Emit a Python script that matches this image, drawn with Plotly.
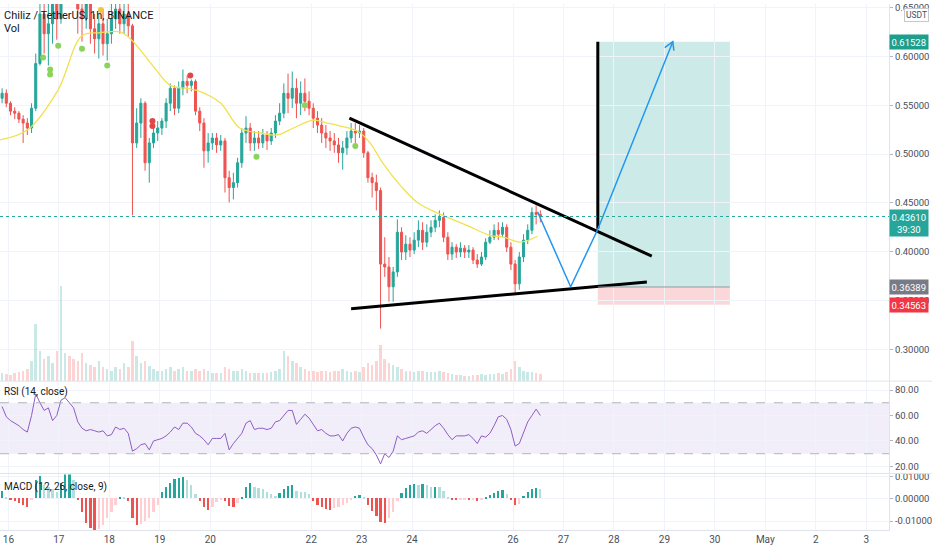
import pandas as pd
import plotly.graph_objects as go

candle_open = [
    0.5573, 0.5624, 0.5522, 0.5441, 0.5420, 0.5359, 0.5319, 0.5268, 0.5471, 0.5929,
    0.6437, 0.6234, 0.6336, 0.6641, 0.6386, 0.6742, 0.6946, 0.6844, 0.6742, 0.6488,
    0.6386, 0.6539, 0.6285, 0.6183, 0.6336, 0.6132, 0.6234, 0.6386, 0.6488, 0.6336,
    0.6437, 0.6315, 0.5115, 0.5319, 0.5522, 0.4912, 0.5115, 0.5217, 0.5268, 0.5339,
    0.5522, 0.5675, 0.5471, 0.5675, 0.5746, 0.5705, 0.5746, 0.5441, 0.5319, 0.5034,
    0.5115, 0.5166, 0.5095, 0.5136, 0.4759, 0.4658, 0.4708, 0.4912, 0.5217, 0.5268,
    0.5115, 0.5166, 0.5115, 0.5197, 0.5136, 0.5217, 0.5339, 0.5420, 0.5624, 0.5573,
    0.5675, 0.5522, 0.5624, 0.5542, 0.5471, 0.5369, 0.5298, 0.5217, 0.5166, 0.5136,
    0.5095, 0.5014, 0.5064, 0.5166, 0.5237, 0.5217, 0.5237, 0.5014, 0.4759, 0.4708,
    0.4627, 0.3874, 0.3844, 0.3641, 0.3793, 0.4200, 0.3997, 0.4078, 0.4017, 0.4119,
    0.4220, 0.4098, 0.4200, 0.4251, 0.4322, 0.4352, 0.4149, 0.3976, 0.4047, 0.3997,
    0.4037, 0.3997, 0.4017, 0.3915, 0.3874, 0.3946, 0.4098, 0.4149, 0.4220, 0.4180,
    0.4251, 0.4047, 0.3874, 0.3671, 0.3946, 0.4119, 0.4220, 0.4403, 0.4383,
]
candle_high = [
    0.5675, 0.5664, 0.5542, 0.5481, 0.5441, 0.5400, 0.5369, 0.5522, 0.6031, 0.6742,
    0.6844, 0.6641, 0.6946, 0.6844, 0.7048, 0.7251, 0.7149, 0.7048, 0.6895, 0.6641,
    0.6742, 0.6641, 0.6437, 0.6437, 0.6488, 0.6386, 0.6539, 0.6742, 0.6692, 0.6590,
    0.6641, 0.6336, 0.5471, 0.5573, 0.5542, 0.5166, 0.5319, 0.5339, 0.5369, 0.5573,
    0.5725, 0.5705, 0.5746, 0.5868, 0.5807, 0.5766, 0.5766, 0.5481, 0.5369, 0.5217,
    0.5217, 0.5217, 0.5197, 0.5166, 0.4830, 0.4810, 0.4963, 0.5268, 0.5390, 0.5319,
    0.5237, 0.5237, 0.5258, 0.5237, 0.5268, 0.5400, 0.5522, 0.5725, 0.5827, 0.5847,
    0.5776, 0.5746, 0.5776, 0.5644, 0.5522, 0.5441, 0.5369, 0.5298, 0.5237, 0.5217,
    0.5166, 0.5136, 0.5237, 0.5319, 0.5319, 0.5298, 0.5268, 0.5034, 0.4810, 0.4790,
    0.4658, 0.4149, 0.3946, 0.3844, 0.4332, 0.4251, 0.4169, 0.4149, 0.4200, 0.4322,
    0.4302, 0.4281, 0.4322, 0.4383, 0.4424, 0.4403, 0.4200, 0.4098, 0.4078, 0.4098,
    0.4068, 0.4068, 0.4047, 0.3976, 0.3997, 0.4139, 0.4220, 0.4281, 0.4302, 0.4302,
    0.4281, 0.4098, 0.3915, 0.3997, 0.4180, 0.4281, 0.4454, 0.4475, 0.4424,
]
candle_low = [
    0.5522, 0.5481, 0.5400, 0.5359, 0.5319, 0.5115, 0.5197, 0.5217, 0.5441, 0.5908,
    0.6031, 0.5908, 0.6132, 0.6173, 0.6336, 0.6641, 0.6692, 0.6590, 0.6234, 0.6153,
    0.6285, 0.6132, 0.6031, 0.5980, 0.6010, 0.5959, 0.6132, 0.6285, 0.6234, 0.6234,
    0.6203, 0.4373, 0.5064, 0.5166, 0.4830, 0.4708, 0.5064, 0.5136, 0.5197, 0.5268,
    0.5441, 0.5400, 0.5420, 0.5603, 0.5624, 0.5644, 0.5400, 0.5237, 0.4861, 0.4912,
    0.5044, 0.5014, 0.5034, 0.4607, 0.4505, 0.4536, 0.4658, 0.4861, 0.5115, 0.5034,
    0.5034, 0.5054, 0.5064, 0.5044, 0.5095, 0.5166, 0.5298, 0.5369, 0.5420, 0.5471,
    0.5369, 0.5400, 0.5441, 0.5400, 0.5268, 0.5217, 0.5115, 0.5064, 0.5034, 0.5014,
    0.4912, 0.4841, 0.4993, 0.5115, 0.5115, 0.5166, 0.4963, 0.4708, 0.4556, 0.4424,
    0.3213, 0.3742, 0.3488, 0.3488, 0.3742, 0.3915, 0.3915, 0.3946, 0.3976, 0.4047,
    0.4017, 0.4047, 0.4149, 0.4200, 0.4251, 0.4098, 0.3915, 0.3915, 0.3936, 0.3946,
    0.3936, 0.3936, 0.3874, 0.3834, 0.3854, 0.3915, 0.4078, 0.4119, 0.4119, 0.4149,
    0.3997, 0.3813, 0.3569, 0.3610, 0.3895, 0.4078, 0.4180, 0.4281, 0.4302,
]
candle_close = [
    0.5624, 0.5522, 0.5441, 0.5420, 0.5359, 0.5319, 0.5268, 0.5471, 0.5929, 0.6437,
    0.6234, 0.6336, 0.6641, 0.6386, 0.6742, 0.6946, 0.6844, 0.6742, 0.6488, 0.6386,
    0.6539, 0.6285, 0.6183, 0.6336, 0.6132, 0.6234, 0.6386, 0.6488, 0.6336, 0.6437,
    0.6315, 0.5115, 0.5319, 0.5522, 0.4912, 0.5115, 0.5217, 0.5268, 0.5339, 0.5522,
    0.5675, 0.5471, 0.5675, 0.5746, 0.5705, 0.5746, 0.5441, 0.5319, 0.5034, 0.5115,
    0.5166, 0.5095, 0.5136, 0.4759, 0.4658, 0.4708, 0.4912, 0.5217, 0.5268, 0.5115,
    0.5166, 0.5115, 0.5197, 0.5136, 0.5217, 0.5339, 0.5420, 0.5624, 0.5573, 0.5675,
    0.5522, 0.5624, 0.5542, 0.5471, 0.5369, 0.5298, 0.5217, 0.5166, 0.5136, 0.5095,
    0.5014, 0.5064, 0.5166, 0.5237, 0.5217, 0.5237, 0.5014, 0.4759, 0.4708, 0.4627,
    0.3874, 0.3844, 0.3641, 0.3793, 0.4200, 0.3997, 0.4078, 0.4017, 0.4119, 0.4220,
    0.4098, 0.4200, 0.4251, 0.4322, 0.4352, 0.4149, 0.3976, 0.4047, 0.3997, 0.4037,
    0.3997, 0.4017, 0.3915, 0.3874, 0.3946, 0.4098, 0.4149, 0.4220, 0.4180, 0.4251,
    0.4047, 0.3874, 0.3671, 0.3946, 0.4119, 0.4220, 0.4403, 0.4383, 0.4361,
]
volume = [
    8, 7, 6, 8, 9, 10, 12, 20, 58, 30,
    22, 25, 18, 30, 96, 28, 25, 22, 20, 28,
    18, 16, 14, 20, 14, 12, 10, 14, 12, 18,
    14, 40, 25, 18, 20, 15, 12, 10, 10, 12,
    14, 10, 12, 14, 10, 10, 12, 10, 12, 10,
    8, 8, 8, 14, 12, 10, 10, 12, 10, 8,
    8, 8, 8, 8, 9, 10, 12, 30, 25, 20,
    18, 14, 12, 10, 10, 9, 10, 10, 9, 10,
    10, 12, 10, 9, 10, 9, 14, 18, 16, 20,
    36, 22, 18, 16, 14, 12, 10, 10, 9, 10,
    10, 9, 9, 9, 10, 9, 8, 7, 6, 6,
    5, 5, 6, 6, 7, 6, 7, 7, 8, 7,
    9, 12, 20, 14, 10, 9, 9, 8, 7,
]
rsi_values = [
    67, 59, 56, 54, 52, 49, 47, 60, 77, 70,
    64, 66, 56, 60, 72, 74, 70, 66, 55, 50,
    48, 49, 48, 47, 48, 44, 45, 51, 49, 50,
    46, 32, 34, 37, 38, 33, 40, 41, 42, 44,
    47, 51, 49, 54, 54, 51, 46, 44, 41, 37,
    42, 42, 42, 46, 33, 38, 42, 46, 54, 56,
    49, 50, 50, 49, 50, 55, 56, 60, 64, 64,
    53, 57, 61, 58, 53, 48, 49, 46, 44, 44,
    45, 40, 46, 50, 51, 50, 43, 37, 34, 29,
    22, 30, 27, 32, 44, 41, 42, 43, 44, 47,
    48, 46, 49, 52, 54, 50, 45, 41, 44, 44,
    44, 45, 42, 38, 44, 43, 46, 52, 59, 60,
    57, 49, 36, 38, 46, 55, 60, 65, 60,
]
macd_hist = [
    0.0035, 0.0008, -0.0005, -0.0012, -0.0020, -0.0030, -0.0038, -0.0004, 0.0080, 0.0100,
    0.0060, 0.0052, 0.0040, 0.0030, 0.0070, 0.0115, 0.0118, 0.0080, -0.0005, -0.0060,
    -0.0110, -0.0135, -0.0140, -0.0138, -0.0120, -0.0090, -0.0060, -0.0030, 0.0005, 0.0003,
    -0.0010, -0.0090, -0.0120, -0.0115, -0.0100, -0.0090, -0.0060, -0.0030, 0.0030, 0.0050,
    0.0070, 0.0085, 0.0092, 0.0096, 0.0080, 0.0060, 0.0020, -0.0010, -0.0040, -0.0052,
    -0.0040, -0.0015, -0.0008, -0.0010, -0.0035, -0.0037, -0.0020, 0.0005, 0.0050, 0.0068,
    0.0050, 0.0045, 0.0040, 0.0030, 0.0020, 0.0012, 0.0025, 0.0040, 0.0055, 0.0060,
    0.0035, 0.0030, 0.0028, 0.0020, -0.0010, -0.0030, -0.0040, -0.0048, -0.0052, -0.0045,
    -0.0038, -0.0030, -0.0020, -0.0005, 0.0012, 0.0015, 0.0003, -0.0030, -0.0055, -0.0080,
    -0.0105, -0.0110, -0.0090, -0.0060, -0.0010, 0.0025, 0.0045, 0.0060, 0.0065, 0.0060,
    0.0062, 0.0058, 0.0050, 0.0052, 0.0050, 0.0035, 0.0005, -0.0005, -0.0008, -0.0006,
    -0.0004, -0.0006, -0.0005, -0.0010, -0.0004, 0.0005, 0.0015, 0.0025, 0.0032, 0.0038,
    0.0020, -0.0005, -0.0030, -0.0025, 0.0010, 0.0030, 0.0042, 0.0045, 0.0044,
]

ema_times = [
    "2021-04-15 20:00", "2021-04-16 09:00", "2021-04-16 23:30", "2021-04-17 11:00",
    "2021-04-17 19:30", "2021-04-18 05:00", "2021-04-18 10:00", "2021-04-18 21:00",
    "2021-04-19 05:00", "2021-04-19 13:00", "2021-04-19 19:00", "2021-04-20 05:00",
    "2021-04-20 14:00", "2021-04-21 00:00", "2021-04-21 08:00", "2021-04-21 15:30",
    "2021-04-22 01:00", "2021-04-22 07:40", "2021-04-22 14:00", "2021-04-22 22:00",
    "2021-04-23 04:00", "2021-04-23 10:00", "2021-04-23 18:30", "2021-04-24 02:30",
    "2021-04-24 13:30", "2021-04-25 02:00", "2021-04-25 13:00", "2021-04-25 19:30",
    "2021-04-26 03:30", "2021-04-26 11:40",
]
ema_values = [
    0.5146, 0.5247, 0.5654, 0.6214, 0.6244, 0.6254, 0.6183, 0.5898, 0.5705, 0.5674,
    0.5644, 0.5522, 0.5268, 0.5217, 0.5197, 0.5268, 0.5349, 0.5319, 0.5288, 0.5237,
    0.5115, 0.4912, 0.4678, 0.4505, 0.4383, 0.4271, 0.4169, 0.4149, 0.4098, 0.4159,
]

# indicator dots
green_dot_times = ["2021-04-16 16:30", "2021-04-16 19:50", "2021-04-16 19:50", "2021-04-16 23:40",
                   "2021-04-17 11:00", "2021-04-17 23:00", "2021-04-20 22:00", "2021-04-21 21:00",
                   "2021-04-22 21:00"]
green_dot_prices = [0.5990, 0.5868, 0.5817, 0.6112, 0.6081, 0.5908, 0.4973, 0.5502, 0.5085]
red_dot_times = ["2021-04-19 14:30", "2021-04-18 20:30", "2021-04-18 20:30"]
red_dot_prices = [0.5807, 0.5339, 0.5288]
orange_dot_times = ["2021-04-17 20:00"]
orange_dot_prices = [0.6478]

# drawings
upper_line_t = ["2021-04-22 18:10", "2021-04-28 18:00"]
upper_line_p = [0.5369, 0.3955]
lower_line_t = ["2021-04-22 19:00", "2021-04-28 15:40"]
lower_line_p = [0.3416, 0.3691]
breakout_t = ["2021-04-27 16:20", "2021-04-27 16:20"]
breakout_p = [0.6153, 0.4235]
path_t = ["2021-04-26 11:40", "2021-04-27 03:25", "2021-04-27 16:20", "2021-04-29 04:00"]
path_p = [0.4410, 0.3641, 0.4230, 0.6153]
arrow_t = ["2021-04-29 00:10", "2021-04-29 04:00", "2021-04-29 04:30"]
arrow_p = [0.6092, 0.6153, 0.6061]

position_start = "2021-04-27 16:20"
position_end = "2021-04-30 07:10"
target_price = 0.61528
entry_price = 0.36389
stop_price = 0.34563
last_price = 0.43610

price_ticks = [0.30, 0.35, 0.40, 0.45, 0.50, 0.55, 0.60, 0.65]
price_labels = ["0.30000", "0.35000", "0.40000", "0.45000", "0.50000", "0.55000", "0.60000", "0.65000"]
rsi_ticks = [20, 40, 60, 80]
rsi_labels = ["20.00", "40.00", "60.00", "80.00"]
macd_ticks = [-0.01, 0.0, 0.01]
macd_labels = ["-0.01000", "0.00000", "0.01000"]
date_ticks = ["2021-04-16", "2021-04-17", "2021-04-18", "2021-04-19", "2021-04-20", "2021-04-22",
              "2021-04-23", "2021-04-24", "2021-04-26", "2021-04-27", "2021-04-28", "2021-04-29",
              "2021-04-30", "2021-05-01", "2021-05-02", "2021-05-03"]
date_labels = ["16", "17", "18", "19", "20", "22", "23", "24", "26", "27", "28", "29", "30", "May", "2", "3"]

UP = "#26a69a"
DOWN = "#ef5350"
GRID = "#f0f3fa"
BORDER = "#e0e3eb"
TICK = "#4a4e58"
FONT = "Roboto"
X_RANGE = ["2021-04-15 20:00", "2021-05-03 10:50"]

times = pd.date_range("2021-04-15 21:00", periods=len(candle_close), freq="2h")
vol_colors = [
    "rgba(38,166,154,0.25)" if c >= o else "rgba(239,83,80,0.25)"
    for o, c in zip(candle_open, candle_close)
]
macd_colors = []
prev = 0.0
for v in macd_hist:
    if v >= 0:
        macd_colors.append("#26a69a" if v >= prev else "#b2dfdb")
    else:
        macd_colors.append("#ffcdd2" if v >= prev else "#ef5350")
    prev = v

fig = go.Figure()

fig.add_trace(go.Bar(x=times, y=volume, marker_color=vol_colors, marker_line_width=0,
                     width=2 * 3600 * 1000 * 0.6, xaxis="x", yaxis="y4"))
fig.add_trace(go.Scatter(x=ema_times, y=ema_values, mode="lines", line_shape="spline",
                         line=dict(color="#f0e24d", width=1.3), xaxis="x", yaxis="y"))
fig.add_trace(go.Candlestick(
    x=times, open=candle_open, high=candle_high, low=candle_low, close=candle_close,
    increasing=dict(line=dict(color=UP, width=1), fillcolor=UP),
    decreasing=dict(line=dict(color=DOWN, width=1), fillcolor=DOWN),
    whiskerwidth=0, xaxis="x", yaxis="y",
))
fig.add_trace(go.Scatter(x=green_dot_times, y=green_dot_prices, mode="markers",
                         marker=dict(color="#8bd35a", size=6), xaxis="x", yaxis="y"))
fig.add_trace(go.Scatter(x=red_dot_times, y=red_dot_prices, mode="markers",
                         marker=dict(color="#e04848", size=6), xaxis="x", yaxis="y"))
fig.add_trace(go.Scatter(x=orange_dot_times, y=orange_dot_prices, mode="markers",
                         marker=dict(color="#f5c242", size=6), xaxis="x", yaxis="y"))

# user drawings
for t, p in [(upper_line_t, upper_line_p), (lower_line_t, lower_line_p), (breakout_t, breakout_p)]:
    fig.add_trace(go.Scatter(x=t, y=p, mode="lines", line=dict(color="#000000", width=3),
                             xaxis="x", yaxis="y"))
fig.add_trace(go.Scatter(x=path_t, y=path_p, mode="lines", line=dict(color="#2196f3", width=1.5),
                         xaxis="x", yaxis="y"))
fig.add_trace(go.Scatter(x=arrow_t, y=arrow_p, mode="lines", line=dict(color="#2196f3", width=1.5),
                         xaxis="x", yaxis="y"))

fig.add_trace(go.Scatter(x=times, y=rsi_values, mode="lines", line=dict(color="#8e5cc4", width=1),
                         xaxis="x2", yaxis="y2"))
fig.add_trace(go.Bar(x=times, y=macd_hist, marker_color=macd_colors, marker_line_width=0,
                     width=2 * 3600 * 1000 * 0.55, xaxis="x3", yaxis="y3"))

shapes = [
    # long position box
    dict(type="rect", xref="x", yref="y", x0=position_start, x1=position_end,
         y0=entry_price, y1=target_price, fillcolor="rgba(0,150,136,0.2)", line_width=0, layer="below"),
    dict(type="rect", xref="x", yref="y", x0=position_start, x1=position_end,
         y0=stop_price, y1=entry_price, fillcolor="rgba(242,54,69,0.2)", line_width=0, layer="below"),
    dict(type="line", xref="x", yref="y", x0=position_start, x1=position_end,
         y0=entry_price, y1=entry_price, line=dict(color="#9598a1", width=1)),
    # last price
    dict(type="line", xref="paper", yref="y", x0=0, x1=1, y0=last_price, y1=last_price,
         line=dict(color=UP, width=1, dash="dot")),
    # rsi band
    dict(type="rect", xref="paper", yref="y2", x0=0, x1=1, y0=30, y1=70,
         fillcolor="rgba(126,87,194,0.1)", line_width=0, layer="below"),
    dict(type="line", xref="paper", yref="y2", x0=0, x1=1, y0=70, y1=70,
         line=dict(color="#b2b5be", width=1, dash="dash")),
    dict(type="line", xref="paper", yref="y2", x0=0, x1=1, y0=30, y1=30,
         line=dict(color="#b2b5be", width=1, dash="dash")),
    # pane separators
    dict(type="line", xref="paper", yref="paper", x0=0, x1=1.05, y0=0.2830, y1=0.2830,
         line=dict(color=BORDER, width=1)),
    dict(type="line", xref="paper", yref="paper", x0=0, x1=1.05, y0=0.1075, y1=0.1075,
         line=dict(color=BORDER, width=1)),
]

tag_font = dict(family=FONT, size=9.5, color="#ffffff")
annotations = [
    dict(text="Chiliz / TetherUS, 1h, BINANCE", xref="paper", yref="paper", x=0, y=1,
         xanchor="left", yanchor="top", xshift=2, yshift=-3, showarrow=False,
         font=dict(family=FONT, size=11, color="#131722")),
    dict(text="Vol", xref="paper", yref="paper", x=0, y=1, xanchor="left", yanchor="top",
         xshift=2, yshift=-16, showarrow=False, font=dict(family=FONT, size=11, color="#131722")),
    dict(text="RSI (14, close)", xref="paper", yref="y2 domain", x=0, y=1, xanchor="left",
         yanchor="top", xshift=2, yshift=-2, showarrow=False,
         font=dict(family=FONT, size=10, color="#131722")),
    dict(text="MACD (12, 26, close, 9)", xref="paper", yref="y3 domain", x=0, y=1, xanchor="left",
         yanchor="top", xshift=2, yshift=-5, showarrow=False,
         font=dict(family=FONT, size=10, color="#131722")),
    dict(text="USDT", xref="paper", yref="paper", x=1, y=1, xanchor="left", yanchor="top",
         xshift=15, yshift=-4, showarrow=False, bgcolor="#ffffff", bordercolor="#c5c8d0",
         borderwidth=1, borderpad=1, font=dict(family=FONT, size=8.5, color=TICK)),
    dict(text="0.61528", xref="paper", yref="y", x=1, y=target_price, xanchor="left",
         yanchor="middle", showarrow=False, bgcolor="#1e9e8c", borderpad=1.5, font=tag_font),
    dict(text="0.43610<br>39:30", xref="paper", yref="y", x=1, y=last_price, xanchor="left",
         yanchor="top", yshift=8, showarrow=False, bgcolor=UP, borderpad=1.5, font=tag_font),
    dict(text="0.36389", xref="paper", yref="y", x=1, y=entry_price, xanchor="left",
         yanchor="middle", showarrow=False, bgcolor="#787b86", borderpad=1.5, font=tag_font),
    dict(text="0.34563", xref="paper", yref="y", x=1, y=stop_price, xanchor="left",
         yanchor="middle", showarrow=False, bgcolor="#f23645", borderpad=1.5, font=tag_font),
]

xaxis_common = dict(type="date", range=X_RANGE, tickvals=date_ticks, ticktext=date_labels,
                    showgrid=True, gridcolor=GRID, zeroline=False, domain=[0, 1],
                    fixedrange=True)
yaxis_common = dict(side="right", showgrid=True, gridcolor=GRID, zeroline=False, showline=True,
                    linecolor=BORDER, ticks="outside", ticklen=3, tickcolor="#b2b5be",
                    tickfont=dict(family=FONT, size=9.5, color=TICK))

fig.update_layout(
    width=932, height=550,
    margin=dict(l=0, r=43, t=0, b=20),
    paper_bgcolor="#ffffff", plot_bgcolor="#ffffff",
    showlegend=False, hovermode=False, bargap=0,
    xaxis=dict(**xaxis_common, anchor="y", showticklabels=False, rangeslider=dict(visible=False)),
    xaxis2=dict(**xaxis_common, anchor="y2", showticklabels=False),
    xaxis3=dict(**xaxis_common, anchor="y3", showticklabels=True, showline=True, linecolor=BORDER,
                tickfont=dict(family=FONT, size=10, color=TICK)),
    yaxis=dict(**yaxis_common, domain=[0.2830, 1], range=[0.2674, 0.6539],
               tickvals=price_ticks, ticktext=price_labels),
    yaxis2=dict(**yaxis_common, domain=[0.1075, 0.2811], range=[14.5, 86.2],
                tickvals=rsi_ticks, ticktext=rsi_labels),
    yaxis3=dict(**yaxis_common, domain=[0, 0.1057], range=[-0.014, 0.0109],
                tickvals=macd_ticks, ticktext=macd_labels),
    yaxis4=dict(overlaying="y", range=[0, 380], visible=False, showgrid=False),
    shapes=shapes,
    annotations=annotations,
)

# the page body keeps a default 8px margin; drop it so the chart sits flush like the screenshot
fig.write_html("out.html", config={"displayModeBar": False},
               post_script="document.body.style.margin='0';")
